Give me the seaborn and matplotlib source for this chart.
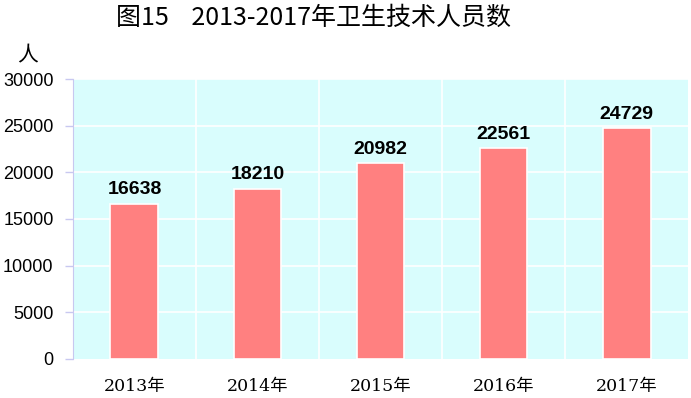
import matplotlib
matplotlib.use('Agg')
import matplotlib.pyplot as plt
import seaborn as sns
import pandas as pd

years = ['2013年', '2014年', '2015年', '2016年', '2017年']
staff = [16638, 18210, 20982, 22561, 24729]
yticks = [0, 5000, 10000, 15000, 20000, 25000, 30000]

sns.set_style('white')
plt.rcParams['font.family'] = ['Liberation Sans', 'Noto Sans CJK SC', 'DejaVu Sans']
plt.rcParams['text.color'] = 'black'
plt.rcParams['xtick.color'] = 'black'
plt.rcParams['ytick.color'] = 'black'

df = pd.DataFrame({'year': years, 'value': staff})

fig = plt.figure(figsize=(6.91, 3.98), dpi=100)
ax = fig.add_axes([0.1056, 0.098, 0.8901, 0.7035])
ax.set_facecolor('#d9fdfd')

sns.barplot(data=df, x='year', y='value', ax=ax, color='#ff8080', width=0.39,
            saturation=1, edgecolor='white', linewidth=1.2, zorder=3)

ax.set_ylim(0, 30000)
ax.set_xlim(-0.5, 4.5)
ax.set_yticks(yticks)
ax.set_yticklabels([str(t) for t in yticks], fontsize=13)

# white grid: horizontal at ticks, vertical between categories
for t in yticks[1:]:
    ax.axhline(t, color='white', lw=1.2, zorder=1)
for b in [0.5, 1.5, 2.5, 3.5]:
    ax.axvline(b, color='white', lw=1.2, zorder=1)

for i, v in enumerate(staff):
    ax.text(i, v + 600, str(v), ha='center', va='bottom', fontsize=14,
            fontweight='bold', zorder=4)

ax.set_xticklabels(years, fontsize=12.5, family=['DejaVu Serif', 'Noto Sans CJK SC'])
ax.tick_params(axis='x', length=0, pad=14, labelcolor='black')
ax.tick_params(axis='y', length=6, color='#c8c8f0', width=1, left=True, pad=8,
               labelcolor='black')
ax.set_xlabel('')
ax.set_ylabel('')
for s in ['top', 'right', 'bottom']:
    ax.spines[s].set_visible(False)
ax.spines['left'].set_color('#c8c8f0')

fig.text(0.04, 0.845, '人', fontsize=15, ha='center', family=['Noto Sans CJK SC'])
fig.text(0.453, 0.955, '图15    2013-2017年卫生技术人员数', fontsize=18, ha='center', va='center',
         family=['Noto Sans CJK SC', 'DejaVu Sans'])

fig.savefig('out.png', dpi=100)
